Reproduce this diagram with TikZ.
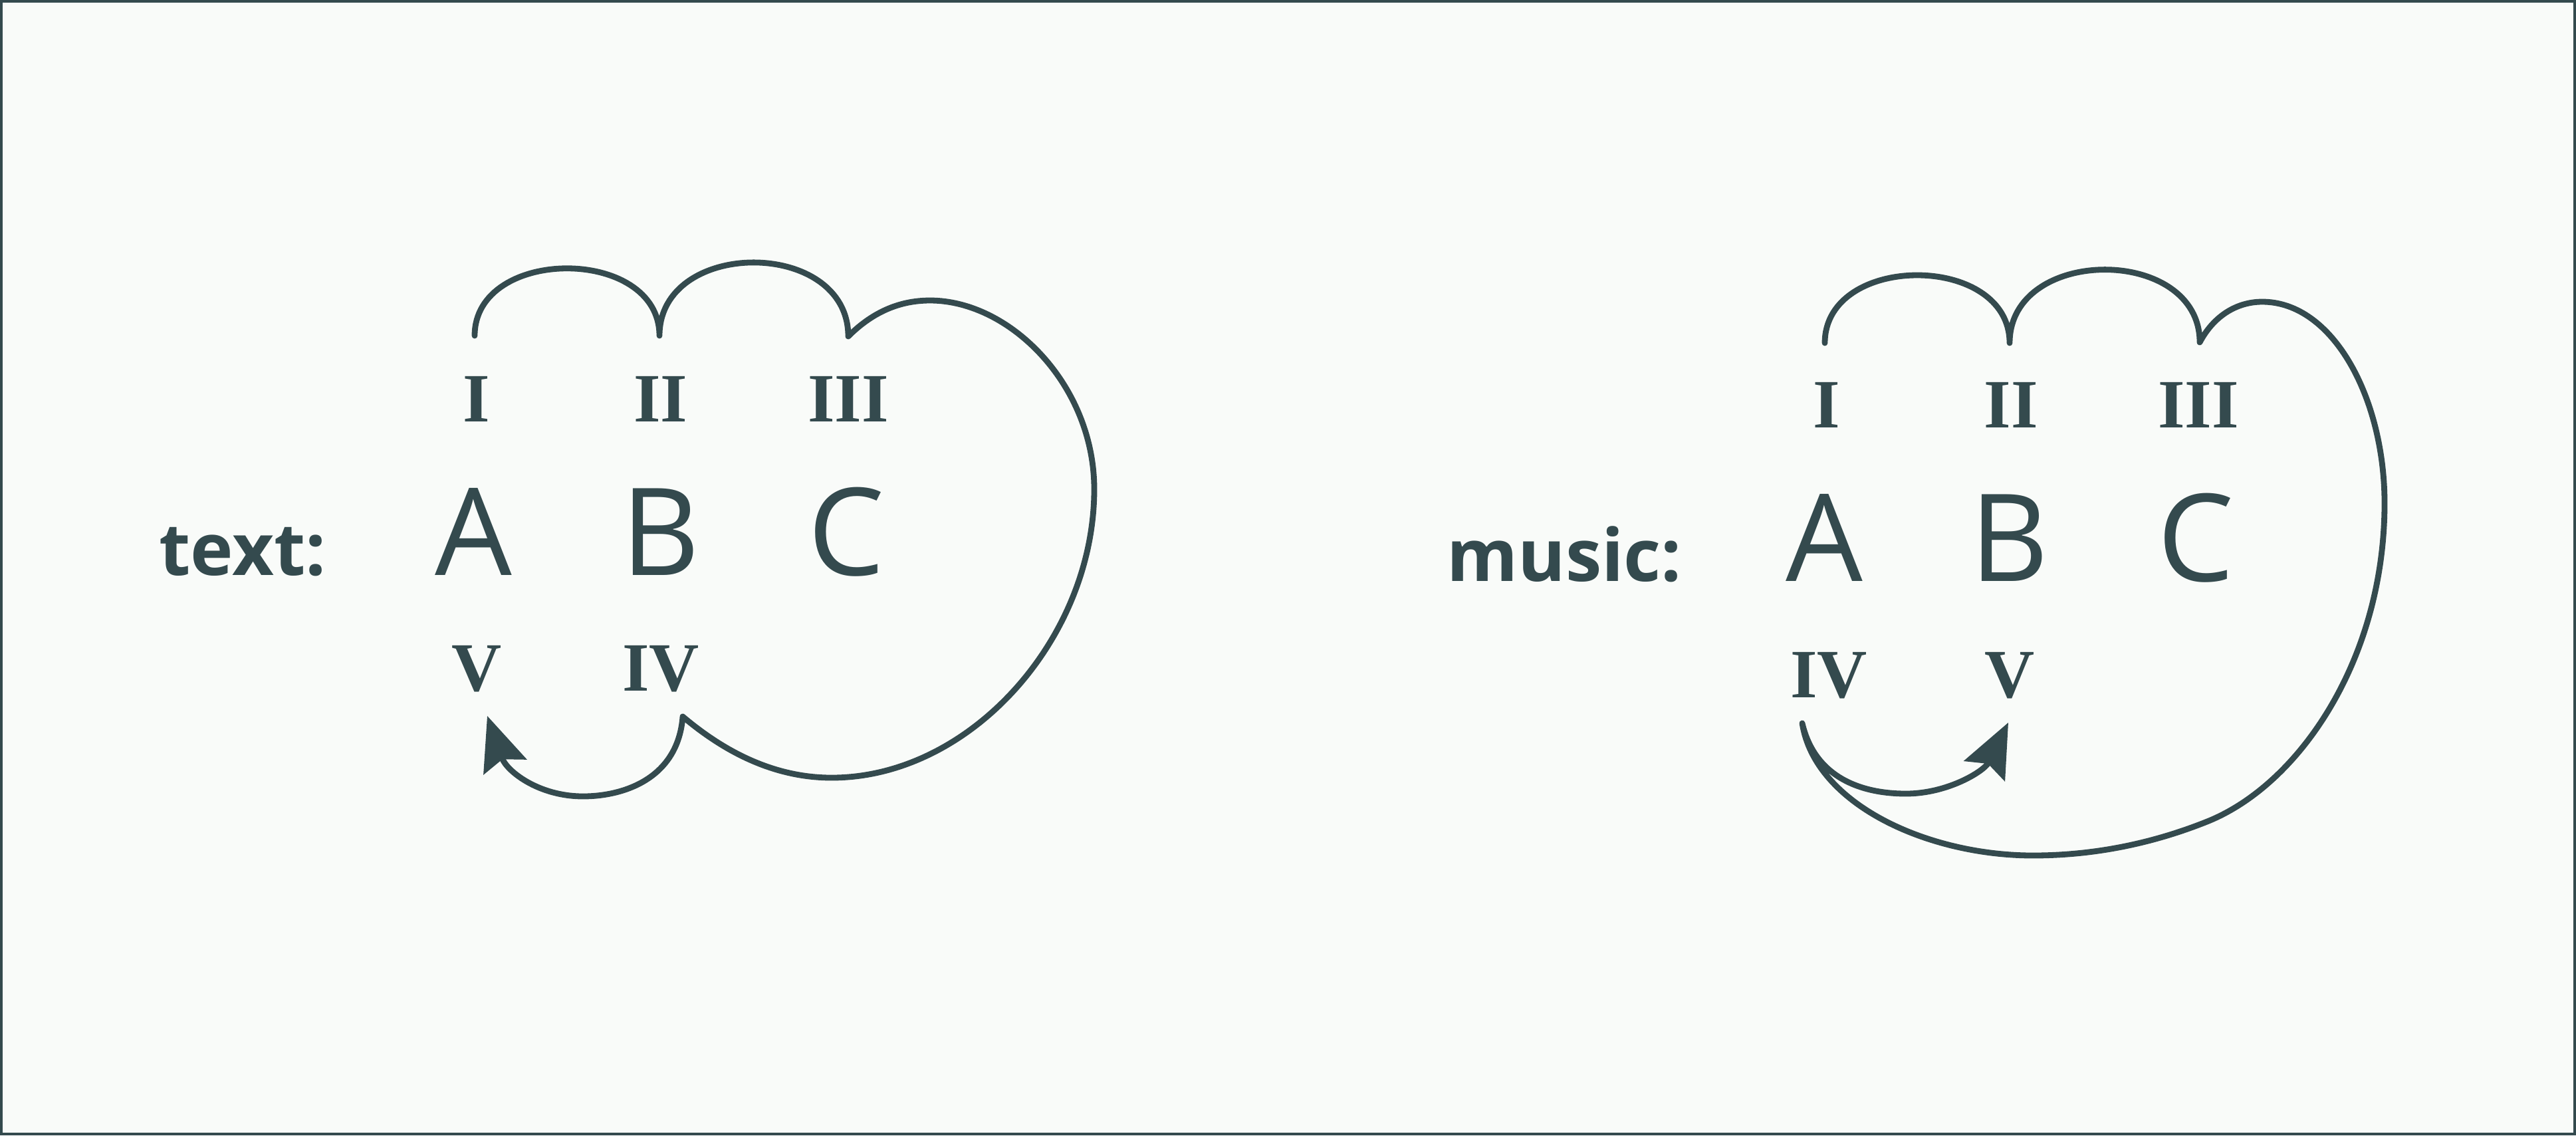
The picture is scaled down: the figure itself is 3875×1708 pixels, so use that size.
\documentclass[tikz,border=0pt]{standalone}
\usepackage{fontspec}
\setmainfont{Liberation Serif}
\setsansfont{Open Sans}
\usetikzlibrary{arrows.meta}
\definecolor{ink}{HTML}{344A4E}
\definecolor{paper}{HTML}{F9FBF9}
\begin{document}
\begin{tikzpicture}[x=0.01cm,y=-0.01cm,
  numeral/.style={anchor=base,inner sep=0pt,text=ink,font=\bfseries\fontsize{29.6}{30}\selectfont},
  letter/.style={anchor=base,inner sep=0pt,text=ink,font=\sffamily\fontsize{52}{52}\selectfont},
  lbl/.style={anchor=base,inner sep=0pt,text=ink,font=\sffamily\bfseries\fontsize{31}{31}\selectfont},
  link/.style={draw=ink,line width=0.088cm,line cap=round,line join=round},
  arr/.style={-{Stealth[length=0.81cm,width=0.68cm,inset=0.12cm]}}
]
\useasboundingbox (0,0) rectangle (3875,1708);
\fill[paper] (0,0) rectangle (3875,1708);
\draw[ink,line width=0.04cm] (2,2) rectangle (3873,1706);

% ---------- left: text ----------
\node[lbl] (textlbl) at (365,865) {text:};
\node[letter] (lA) at (712,865) {A};
\node[letter] (lB) at (994,865) {B};
\node[letter] (lC) at (1273,865) {C};
\node[numeral] (lI) at (717,634) {I};
\node[numeral] (lII) at (994,634) {II};
\node[numeral] (lIII) at (1276,634) {III};
\node[numeral] (lV) at (717,1039) {V};
\node[numeral] (lIV) at (994,1039) {IV};

\coordinate (lpI) at (714,505);
\coordinate (lpII) at (992,505);
\coordinate (lpIII) at (1276,506);
\coordinate (lpIV) at (1027,1078);
\coordinate (lpV) at (733,1077);

\draw[link,arr] (lpI) .. controls (714,370) and (992,370) .. (lpII)
  .. controls (992,358) and (1276,358) .. (lpIII)
  .. controls (1310,472) and (1350,452) .. (1399,452)
  .. controls (1520,452) and (1646,580) .. (1646,736)
  .. controls (1646,960) and (1460,1170) .. (1251,1170)
  .. controls (1160,1170) and (1085,1127) .. (lpIV)
  .. controls (1020,1170) and (940,1198) .. (877,1198)
  .. controls (810,1198) and (762,1160) .. (lpV);

% ---------- right: music ----------
\node[lbl] (musiclbl) at (2353,874) {music:};
\node[letter] (rA) at (2744,874) {A};
\node[letter] (rB) at (3023,874) {B};
\node[letter] (rC) at (3303,874) {C};
\node[numeral] (rI) at (2748,643) {I};
\node[numeral] (rII) at (3025,643) {II};
\node[numeral] (rIII) at (3307,643) {III};
\node[numeral] (rIV) at (2751,1049) {IV};
\node[numeral] (rV) at (3023,1049) {V};

\coordinate (rpI) at (2745,516);
\coordinate (rpII) at (3023,516);
\coordinate (rpIII) at (3309,515);
\coordinate (rpIV) at (2711,1088);
\coordinate (rpV) at (3021,1087);

\draw[link,arr] (rpI) .. controls (2745,380) and (3023,380) .. (rpII)
  .. controls (3023,369) and (3309,369) .. (rpIII)
  .. controls (3330,475) and (3365,454) .. (3403,454)
  .. controls (3510,454) and (3587,600) .. (3587,757)
  .. controls (3587,990) and (3460,1180) .. (3320,1236)
  .. controls (3220,1276) and (3130,1287) .. (3058,1287)
  .. controls (2900,1287) and (2730,1210) .. (rpIV)
  .. controls (2730,1170) and (2800,1194) .. (2867,1194)
  .. controls (2930,1194) and (2985,1160) .. (rpV);
\end{tikzpicture}
\end{document}
